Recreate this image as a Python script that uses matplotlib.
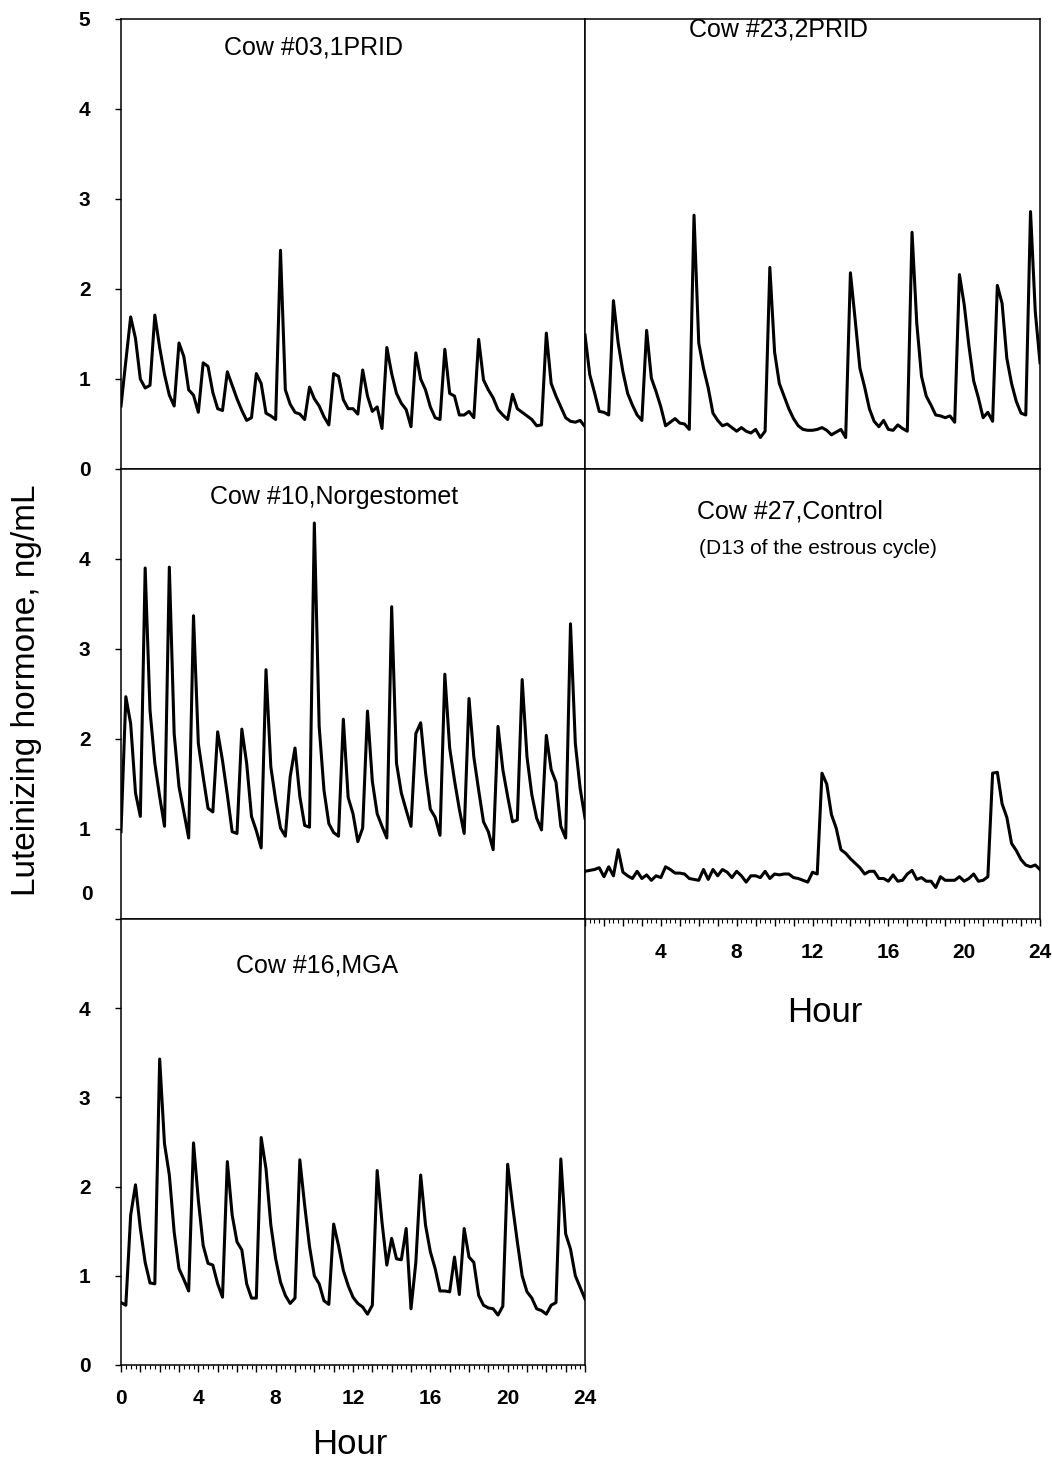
import numpy as np
import matplotlib.pyplot as plt
from matplotlib.ticker import MultipleLocator, FuncFormatter

plt.rcParams['font.family'] = ['Liberation Sans', 'DejaVu Sans']

# samples every 15 min over 24 h
hours = np.arange(0, 24.01, 0.25)

cow03_1prid = [0.70, 1.20, 1.69, 1.45, 1.00, 0.90, 0.93, 1.71, 1.35, 1.05,
               0.82, 0.70, 1.40, 1.25, 0.88, 0.82, 0.63, 1.18, 1.14, 0.85,
               0.67, 0.65, 1.08, 0.93, 0.78, 0.65, 0.54, 0.57, 1.06, 0.95,
               0.62, 0.59, 0.55, 2.43, 0.88, 0.72, 0.63, 0.61, 0.55, 0.91,
               0.78, 0.70, 0.58, 0.49, 1.06, 1.03, 0.77, 0.67, 0.67, 0.61,
               1.10, 0.81, 0.64, 0.69, 0.45, 1.35, 1.06, 0.84, 0.73, 0.66,
               0.47, 1.29, 1.00, 0.88, 0.69, 0.57, 0.55, 1.33, 0.84, 0.81,
               0.60, 0.60, 0.64, 0.57, 1.44, 0.99, 0.88, 0.79, 0.66, 0.60,
               0.55, 0.83, 0.67, 0.63, 0.59, 0.55, 0.48, 0.49, 1.51, 0.95,
               0.81, 0.69, 0.57, 0.53, 0.52, 0.54, 0.47]

cow23_2prid = [1.49, 1.05, 0.85, 0.64, 0.63, 0.60, 1.87, 1.40, 1.08, 0.84,
               0.71, 0.60, 0.54, 1.54, 1.01, 0.86, 0.69, 0.48, 0.52, 0.56,
               0.51, 0.50, 0.44, 2.82, 1.40, 1.12, 0.90, 0.62, 0.54, 0.48,
               0.50, 0.46, 0.42, 0.46, 0.42, 0.40, 0.44, 0.35, 0.42, 2.24,
               1.30, 0.95, 0.81, 0.67, 0.56, 0.48, 0.44, 0.43, 0.43, 0.44,
               0.46, 0.43, 0.38, 0.41, 0.44, 0.35, 2.18, 1.66, 1.12, 0.91,
               0.67, 0.53, 0.47, 0.54, 0.44, 0.43, 0.49, 0.45, 0.42, 2.63,
               1.62, 1.03, 0.81, 0.71, 0.60, 0.59, 0.57, 0.59, 0.52, 2.16,
               1.83, 1.37, 0.98, 0.79, 0.57, 0.63, 0.53, 2.04, 1.84, 1.23,
               0.95, 0.75, 0.62, 0.60, 2.86, 1.75, 1.18]

cow10_norgestomet = [0.97, 2.47, 2.17, 1.40, 1.14, 3.90, 2.32, 1.73, 1.36, 1.03,
                     3.91, 2.06, 1.47, 1.19, 0.90, 3.37, 1.95, 1.58, 1.23, 1.19,
                     2.08, 1.76, 1.38, 0.97, 0.95, 2.11, 1.73, 1.14, 0.98, 0.79,
                     2.77, 1.69, 1.32, 1.01, 0.92, 1.58, 1.90, 1.36, 1.04, 1.02,
                     4.40, 2.14, 1.43, 1.06, 0.96, 0.92, 2.22, 1.35, 1.17, 0.86,
                     1.01, 2.31, 1.53, 1.17, 1.03, 0.90, 3.47, 1.73, 1.40, 1.21,
                     1.03, 2.06, 2.18, 1.63, 1.22, 1.13, 0.93, 2.72, 1.90, 1.54,
                     1.22, 0.95, 2.45, 1.80, 1.43, 1.08, 0.97, 0.77, 2.14, 1.66,
                     1.36, 1.08, 1.10, 2.66, 1.80, 1.38, 1.12, 0.99, 2.04, 1.66,
                     1.52, 1.03, 0.90, 3.28, 1.95, 1.45, 1.12]

cow27_control = [0.53, 0.54, 0.55, 0.57, 0.47, 0.58, 0.48, 0.77, 0.52, 0.48,
                 0.45, 0.53, 0.45, 0.49, 0.43, 0.48, 0.46, 0.58, 0.55, 0.51,
                 0.51, 0.50, 0.45, 0.44, 0.43, 0.55, 0.44, 0.55, 0.48, 0.55,
                 0.52, 0.46, 0.53, 0.48, 0.41, 0.48, 0.48, 0.46, 0.53, 0.45,
                 0.50, 0.49, 0.50, 0.50, 0.46, 0.45, 0.43, 0.41, 0.52, 0.50,
                 1.62, 1.50, 1.16, 1.01, 0.77, 0.73, 0.67, 0.62, 0.57, 0.50,
                 0.53, 0.53, 0.45, 0.45, 0.42, 0.49, 0.42, 0.43, 0.50, 0.54,
                 0.44, 0.46, 0.42, 0.42, 0.35, 0.47, 0.43, 0.43, 0.43, 0.47,
                 0.42, 0.45, 0.50, 0.42, 0.43, 0.47, 1.62, 1.63, 1.28, 1.13,
                 0.84, 0.76, 0.66, 0.60, 0.58, 0.60, 0.55]

cow16_mga = [0.70, 0.67, 1.68, 2.02, 1.53, 1.15, 0.92, 0.91, 3.43, 2.48,
             2.13, 1.49, 1.08, 0.96, 0.83, 2.49, 1.85, 1.34, 1.14, 1.12,
             0.91, 0.76, 2.28, 1.68, 1.38, 1.29, 0.91, 0.75, 0.75, 2.55,
             2.20, 1.57, 1.19, 0.93, 0.78, 0.69, 0.75, 2.30, 1.79, 1.33,
             1.00, 0.91, 0.72, 0.68, 1.58, 1.34, 1.06, 0.89, 0.76, 0.69,
             0.65, 0.57, 0.67, 2.18, 1.60, 1.12, 1.42, 1.19, 1.18, 1.53,
             0.63, 1.15, 2.13, 1.57, 1.27, 1.08, 0.83, 0.83, 0.82, 1.21,
             0.79, 1.53, 1.21, 1.15, 0.78, 0.67, 0.64, 0.63, 0.56, 0.66,
             2.25, 1.79, 1.38, 1.00, 0.82, 0.75, 0.63, 0.61, 0.57, 0.67,
             0.70, 2.31, 1.47, 1.30, 1.00, 0.87, 0.74]

W, H = 1052, 1467
fig = plt.figure(figsize=(W / 100, H / 100), dpi=100)


def box(x0, y0, x1, y1):
    return [x0 / W, 1 - y1 / H, (x1 - x0) / W, (y1 - y0) / H]


def ftext(x, y, s, **kw):
    fig.text(x / W, 1 - y / H, s, ha='center', va='center', **kw)


def panel(rect, vals, yticks=None, ylabels=None, xlabels=None):
    ax = fig.add_axes(rect)
    ax.plot(hours, vals, color='black', lw=2.2)
    ax.set_xlim(0, 24)
    ax.set_ylim(0, 5)
    for s in ax.spines.values():
        s.set_linewidth(1.1)
    if yticks is None:
        ax.set_yticks([])
    else:
        ax.set_yticks(yticks)
        ax.set_yticklabels(ylabels, fontsize=15, fontweight='bold')
        ax.tick_params(axis='y', length=4, width=1, pad=18)
    if xlabels is None:
        ax.set_xticks([])
    else:
        ax.xaxis.set_major_locator(MultipleLocator(1))
        ax.xaxis.set_minor_locator(MultipleLocator(0.25))
        ax.xaxis.set_major_formatter(FuncFormatter(
            lambda v, p: '%d' % v if (v % 4 == 0 and v in xlabels) else ''))
        ax.tick_params(axis='x', which='major', length=5, width=1,
                       labelsize=15, pad=12)
        ax.tick_params(axis='x', which='minor', length=3, width=0.8)
        for lab in ax.get_xticklabels():
            lab.set_fontweight('bold')
    return ax


ax1 = panel(box(121, 19, 585, 469), cow03_1prid, yticks=[0, 1, 2, 3, 4, 5],
            ylabels=['0', '1', '2', '3', '4', '5'])
ax2 = panel(box(585, 19, 1040, 469), cow23_2prid)
ax3 = panel(box(121, 469, 585, 919), cow10_norgestomet, yticks=[0, 1, 2, 3, 4],
            ylabels=['', '1', '2', '3', '4'])
ax4 = panel(box(585, 469, 1040, 919), cow27_control, xlabels=[4, 8, 12, 16, 20, 24])
ax5 = panel(box(121, 919, 585, 1365), cow16_mga, yticks=[0, 1, 2, 3, 4],
            ylabels=['0', '1', '2', '3', '4'], xlabels=[0, 4, 8, 12, 16, 20, 24])

# the zero of the middle panel sits a little above its axis line
ftext(87, 895, '0', fontsize=15, fontweight='bold')

ftext(313, 48, 'Cow #03,1PRID', fontsize=18)
ftext(778, 30, 'Cow #23,2PRID', fontsize=18)
ftext(334, 497, 'Cow #10,Norgestomet', fontsize=18)
ftext(790, 512, 'Cow #27,Control', fontsize=18)
ftext(818, 548, '(D13 of the estrous cycle)', fontsize=15)
ftext(317, 965, 'Cow #16,MGA', fontsize=18)

ftext(350, 1444, 'Hour', fontsize=25)
ftext(825, 1013, 'Hour', fontsize=25)
ftext(27, 690, 'Luteinizing hormone, ng/mL', fontsize=24, rotation=90)

fig.savefig('out.png', dpi=100)
